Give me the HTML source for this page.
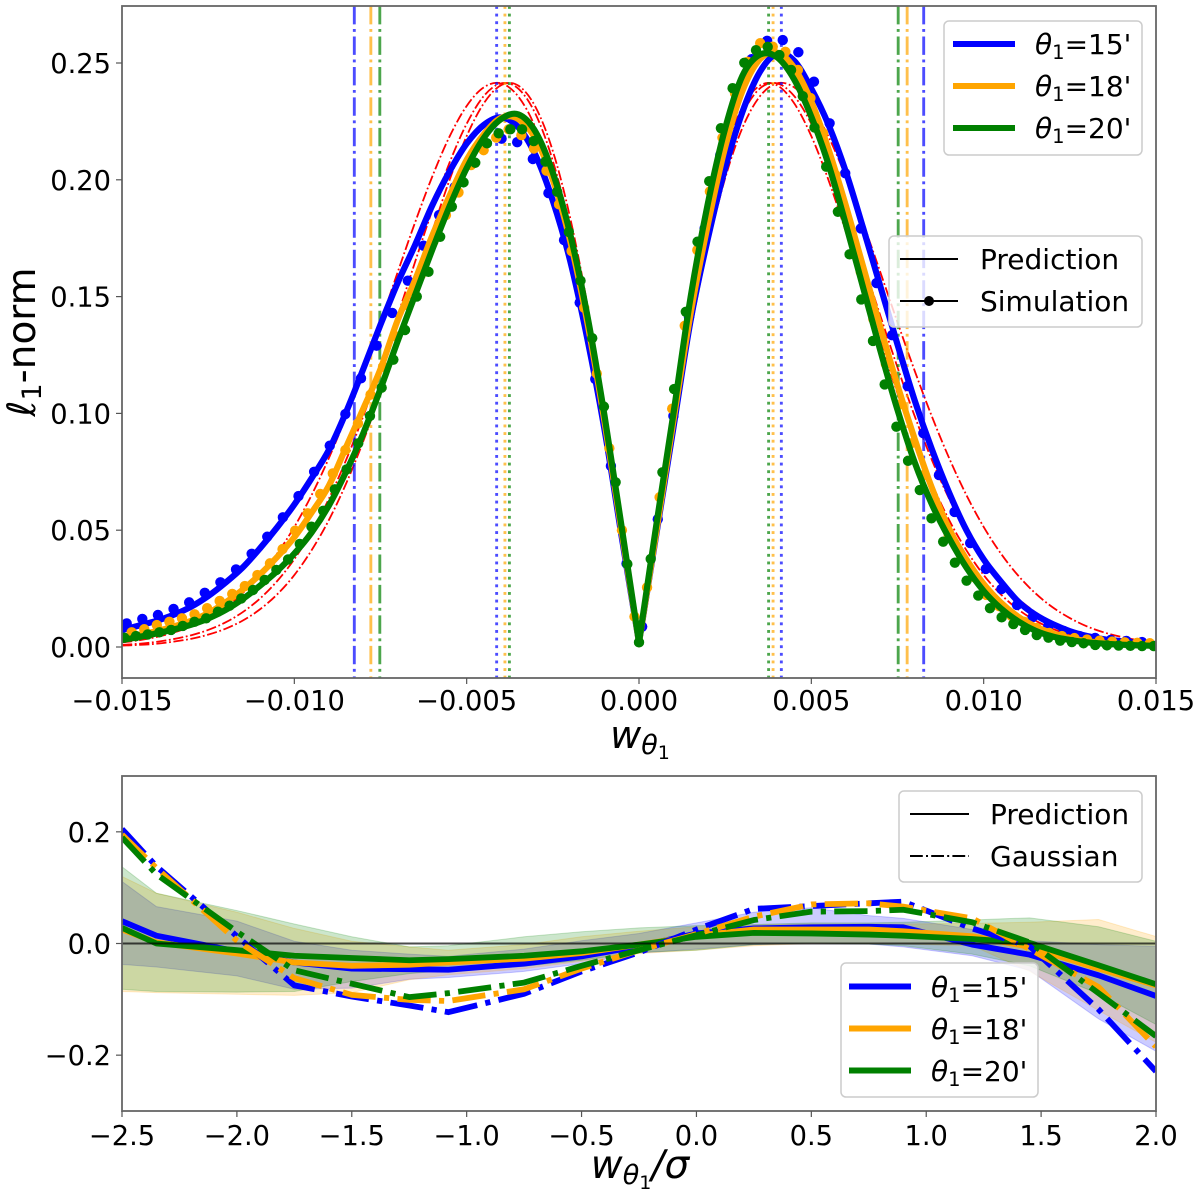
<!DOCTYPE html>
<html lang="en">
<head>
<meta charset="utf-8">
<title>l1-norm prediction versus simulation</title>
<style>
  html, body { margin: 0; padding: 0; background: #fff; }
  svg { display: block; }
  text { font-family: "DejaVu Sans", "Liberation Sans", sans-serif; fill: #000; }
  .it { font-style: italic; }
</style>
</head>
<body>
<svg id="fig" xmlns="http://www.w3.org/2000/svg" width="1200" height="1200" viewBox="0 0 1200 1200">
  <rect x="0" y="0" width="1200" height="1200" fill="#fff"/>
  <defs>
    <clipPath id="clipTop"><rect x="122" y="6" width="1034" height="672"/></clipPath>
    <clipPath id="clipBot"><rect x="122" y="776" width="1034" height="335"/></clipPath>
  </defs>

  <g id="topData" clip-path="url(#clipTop)"></g>
  <g id="botData" clip-path="url(#clipBot)"></g>
  <g id="axesLayer"></g>

  <text x="640" y="748" text-anchor="middle" font-size="38"><tspan class="it">w</tspan><tspan class="it" font-size="27" dy="6">θ</tspan><tspan font-size="19" dy="5">1</tspan></text>
  <text transform="rotate(-90 35 342)" x="35" y="342" text-anchor="middle" font-size="39"><tspan class="it">ℓ</tspan><tspan font-size="27" dy="6">1</tspan><tspan dy="-6">-norm</tspan></text>
  <text x="640" y="1178" text-anchor="middle" font-size="39"><tspan class="it">w</tspan><tspan class="it" font-size="27" dy="6">θ</tspan><tspan font-size="19" dy="5">1</tspan><tspan class="it" dy="-11">/σ</tspan></text>

  <g>
    <rect x="944" y="21" width="198" height="134" rx="5" fill="#fff" fill-opacity="0.8" stroke="#ccc" stroke-width="1.5"/>
    <line x1="953" x2="1015" y1="44" y2="44" stroke="#0000ff" stroke-width="6"/>
    <line x1="953" x2="1015" y1="86" y2="86" stroke="#ffa500" stroke-width="6"/>
    <line x1="953" x2="1015" y1="128" y2="128" stroke="#008000" stroke-width="6"/>
    <text x="1035" y="54" font-size="28"><tspan class="it">θ</tspan><tspan font-size="19.5" dy="5">1</tspan><tspan dy="-5">=15'</tspan></text>
    <text x="1035" y="96" font-size="28"><tspan class="it">θ</tspan><tspan font-size="19.5" dy="5">1</tspan><tspan dy="-5">=18'</tspan></text>
    <text x="1035" y="138" font-size="28"><tspan class="it">θ</tspan><tspan font-size="19.5" dy="5">1</tspan><tspan dy="-5">=20'</tspan></text>
  </g>

  <g>
    <rect x="889" y="236" width="253" height="91" rx="5" fill="#fff" fill-opacity="0.8" stroke="#ccc" stroke-width="1.5"/>
    <line x1="900" x2="958" y1="259" y2="259" stroke="#000" stroke-width="2"/>
    <line x1="900" x2="958" y1="301" y2="301" stroke="#000" stroke-width="2"/>
    <circle cx="929" cy="301" r="5" fill="#000"/>
    <text x="980" y="269" font-size="28">Prediction</text>
    <text x="980" y="311" font-size="28">Simulation</text>
  </g>

  <g>
    <rect x="899" y="791" width="243" height="91" rx="5" fill="#fff" fill-opacity="0.8" stroke="#ccc" stroke-width="1.5"/>
    <line x1="910" x2="969" y1="814" y2="814" stroke="#000" stroke-width="2"/>
    <line x1="910" x2="969" y1="856" y2="856" stroke="#000" stroke-width="2" stroke-dasharray="12.8 3.2 2 3.2"/>
    <text x="990" y="824" font-size="28">Prediction</text>
    <text x="990" y="866" font-size="28">Gaussian</text>
  </g>

  <g>
    <rect x="841" y="963" width="197" height="134" rx="5" fill="#fff" fill-opacity="0.8" stroke="#ccc" stroke-width="1.5"/>
    <line x1="849" x2="911" y1="986.5" y2="986.5" stroke="#0000ff" stroke-width="6"/>
    <line x1="849" x2="911" y1="1028.5" y2="1028.5" stroke="#ffa500" stroke-width="6"/>
    <line x1="849" x2="911" y1="1070.5" y2="1070.5" stroke="#008000" stroke-width="6"/>
    <text x="931" y="997" font-size="28"><tspan class="it">θ</tspan><tspan font-size="19.5" dy="5">1</tspan><tspan dy="-5">=15'</tspan></text>
    <text x="931" y="1039" font-size="28"><tspan class="it">θ</tspan><tspan font-size="19.5" dy="5">1</tspan><tspan dy="-5">=18'</tspan></text>
    <text x="931" y="1081" font-size="28"><tspan class="it">θ</tspan><tspan font-size="19.5" dy="5">1</tspan><tspan dy="-5">=20'</tspan></text>
  </g>
</svg>

<script>
// ---------- Top panel data ----------
const seriesNames = ['theta-15', 'theta-18', 'theta-20'];
const seriesColors = ['#0000ff', '#ffa500', '#008000'];

// Prediction curves, sampled every 0.0005 from -0.015 to 0.015
const predX = [-0.015,-0.0145,-0.014,-0.0135,-0.013,-0.0125,-0.012,-0.0115,-0.011,-0.0105,-0.01,-0.0095,-0.009,-0.0085,-0.008,-0.0075,-0.007,-0.0065,-0.006,-0.0055,-0.005,-0.0045,-0.004,-0.0035,-0.003,-0.0025,-0.002,-0.0015,-0.001,-0.0005,0,0.0005,0.001,0.0015,0.002,0.0025,0.003,0.0035,0.004,0.0045,0.005,0.0055,0.006,0.0065,0.007,0.0075,0.008,0.0085,0.009,0.0095,0.01,0.0105,0.011,0.0115,0.012,0.0125,0.013,0.0135,0.014,0.0145,0.015];
const predBlue = [0.0073,0.0092,0.0112,0.0138,0.0172,0.0218,0.0275,0.034,0.0422,0.0512,0.061,0.0722,0.0843,0.1005,0.119,0.138,0.156,0.172,0.189,0.2035,0.2155,0.2235,0.2267,0.2225,0.2105,0.191,0.1655,0.132,0.093,0.047,0.002,0.048,0.094,0.14,0.175,0.205,0.229,0.246,0.254,0.251,0.239,0.2235,0.2035,0.1795,0.1545,0.1295,0.1055,0.0845,0.066,0.05,0.0375,0.028,0.0195,0.0138,0.0098,0.0068,0.0047,0.0033,0.0025,0.0018,0.0013];
const predOrange = [0.004,0.0052,0.0068,0.0088,0.0112,0.0145,0.019,0.0245,0.031,0.0385,0.047,0.0575,0.069,0.0855,0.102,0.119,0.14,0.157,0.176,0.193,0.2085,0.2195,0.2265,0.226,0.2175,0.2,0.174,0.139,0.0965,0.049,0.002,0.049,0.097,0.143,0.181,0.214,0.238,0.2515,0.2545,0.248,0.2335,0.213,0.189,0.163,0.137,0.112,0.089,0.068,0.0505,0.0375,0.027,0.019,0.013,0.0088,0.0058,0.0038,0.0025,0.0017,0.0012,0.0008,0.0006];
const predGreen = [0.003,0.0043,0.0058,0.0075,0.0095,0.0122,0.0158,0.0205,0.0262,0.0325,0.04,0.049,0.0605,0.075,0.0915,0.1105,0.131,0.1505,0.17,0.1885,0.205,0.218,0.226,0.228,0.2205,0.203,0.177,0.142,0.099,0.051,0.002,0.052,0.1,0.15,0.19,0.222,0.2445,0.2535,0.2525,0.243,0.227,0.2065,0.181,0.154,0.127,0.1015,0.079,0.061,0.0465,0.034,0.024,0.0165,0.011,0.007,0.0045,0.003,0.002,0.0014,0.001,0.0007,0.0005];

// Gaussian reference curves (red), positive half, mirrored about zero; same |w| sampling
const redW = [0,0.0005,0.001,0.0015,0.002,0.0025,0.003,0.0035,0.004,0.0045,0.005,0.0055,0.006,0.0065,0.007,0.0075,0.008,0.0085,0.009,0.0095,0.01,0.0105,0.011,0.0115,0.012,0.0125,0.013,0.0135,0.014,0.0145,0.015];
const redA = [0,0.0479,0.0936,0.1354,0.1715,0.2007,0.2222,0.2356,0.2413,0.2396,0.2316,0.2184,0.2013,0.1816,0.1605,0.139,0.1182,0.0986,0.0808,0.065,0.0514,0.04,0.0306,0.023,0.017,0.0124,0.0088,0.0062,0.0043,0.0029,0.002];
const redB = [0,0.0508,0.099,0.1425,0.1794,0.2081,0.2281,0.239,0.2413,0.2359,0.224,0.2072,0.1869,0.1647,0.1419,0.1197,0.0988,0.08,0.0634,0.0493,0.0376,0.0282,0.0207,0.0149,0.0105,0.0073,0.005,0.0034,0.0022,0.0014,0.0009];
const redC = [0,0.0525,0.1022,0.1467,0.1839,0.2123,0.2311,0.2403,0.2405,0.2328,0.2187,0.1998,0.1778,0.1545,0.131,0.1086,0.0881,0.0699,0.0543,0.0414,0.0308,0.0225,0.0161,0.0113,0.0078,0.0053,0.0035,0.0023,0.0014,0.0009,0.0006];

// Simulation points: each series has its own bin start and spacing
const simStart = [-0.014864, -0.014719, -0.014933];
const simStep = [0.0004532, 0.0003647, 0.0003394];
const simBlue = [0.0101,0.012,0.0137,0.0163,0.0191,0.0232,0.0277,0.0332,0.0399,0.0472,0.0555,0.0646,0.075,0.0862,0.0997,0.115,0.129,0.143,0.1568,0.1718,0.1849,0.1969,0.2076,0.2157,0.2176,0.2161,0.2089,0.1943,0.1742,0.1474,0.1147,0.0775,0.0357,0.0087,0.0547,0.0989,0.1411,0.1792,0.2106,0.234,0.2516,0.2595,0.2598,0.2546,0.242,0.2242,0.2028,0.1792,0.1558,0.1335,0.1117,0.0915,0.0736,0.0578,0.0445,0.0334,0.0248,0.018,0.0128,0.009,0.0068,0.0047,0.0039,0.003,0.0026,0.0021];
const simOrange = [0.0063,0.0076,0.0094,0.0108,0.0123,0.014,0.0166,0.0197,0.0227,0.0261,0.0308,0.0358,0.0419,0.0498,0.0572,0.0655,0.0743,0.0843,0.0957,0.108,0.12,0.133,0.1461,0.1592,0.1735,0.1849,0.1946,0.2063,0.2127,0.2181,0.2216,0.2191,0.2134,0.2039,0.1895,0.1695,0.1452,0.117,0.0851,0.05,0.013,0.0255,0.0641,0.102,0.1375,0.1699,0.195,0.218,0.237,0.2505,0.2585,0.257,0.2548,0.247,0.235,0.22,0.202,0.1815,0.1606,0.1404,0.1211,0.1036,0.0872,0.0736,0.0598,0.0479,0.0386,0.03,0.0223,0.0175,0.0133,0.0108,0.0081,0.006,0.0047,0.0038,0.0032,0.0027,0.0023,0.002,0.0018,0.0016];
const simGreen = [0.004,0.0047,0.0054,0.0063,0.0073,0.009,0.0108,0.0123,0.0151,0.0177,0.0208,0.0244,0.0287,0.033,0.0375,0.0441,0.0515,0.0583,0.0675,0.076,0.0872,0.0989,0.111,0.123,0.1357,0.15,0.1606,0.1756,0.1885,0.1989,0.2073,0.2156,0.2199,0.2216,0.2216,0.2166,0.2078,0.1949,0.1777,0.1568,0.1322,0.1029,0.0705,0.0355,0.002,0.0377,0.0748,0.1104,0.1435,0.1735,0.1994,0.2221,0.2392,0.2501,0.2555,0.2569,0.2534,0.247,0.2358,0.2224,0.2056,0.1863,0.1681,0.1488,0.131,0.1124,0.0943,0.0797,0.0672,0.0551,0.0451,0.0361,0.0284,0.022,0.0166,0.0127,0.0098,0.0073,0.0051,0.004,0.0027,0.0021,0.0016,0.0009,0.0007,0.0006,0.0005,0.0004,0.0004];

// Vertical markers per series: peak positions and tail positions (absolute value of w)
const peakW = [0.00413, 0.00389, 0.00376];
const tailW = [0.00826, 0.00778, 0.00752];

const topXTicks = [-0.015,-0.01,-0.005,0,0.005,0.01,0.015];
const topXLabels = ['−0.015','−0.010','−0.005','0.000','0.005','0.010','0.015'];
const topYTicks = [0,0.05,0.1,0.15,0.2,0.25];
const topYLabels = ['0.00','0.05','0.10','0.15','0.20','0.25'];

// ---------- Bottom panel data ----------
const resX = [-2.5,-2.35,-2,-1.75,-1.5,-1.25,-1.08,-0.75,-0.5,-0.25,0,0.25,0.5,0.75,0.9,1.2,1.45,1.75,2];
const resPredBlue = [0.04,0.014,-0.014,-0.034,-0.045,-0.046,-0.047,-0.036,-0.023,-0.005,0.018,0.027,0.029,0.03,0.029,-0.002,-0.02,-0.057,-0.094];
const resPredOrange = [0.025,0.002,-0.018,-0.034,-0.04,-0.038,-0.034,-0.027,-0.017,-0.002,0.014,0.025,0.025,0.025,0.022,0.013,-0.006,-0.045,-0.075];
const resPredGreen = [0.028,0,-0.012,-0.022,-0.026,-0.03,-0.028,-0.022,-0.014,-0.002,0.012,0.019,0.018,0.016,0.014,0.008,0.001,-0.039,-0.073];
const resGaussBlue = [0.205,0.138,0.013,-0.075,-0.095,-0.111,-0.123,-0.09,-0.05,-0.016,0.025,0.062,0.067,0.072,0.075,0.027,-0.005,-0.118,-0.229];
const resGaussOrange = [0.195,0.135,0.005,-0.062,-0.092,-0.101,-0.103,-0.082,-0.045,-0.012,0.017,0.048,0.07,0.072,0.066,0.045,-0.01,-0.078,-0.185];
const resGaussGreen = [0.19,0.124,0.021,-0.048,-0.072,-0.096,-0.089,-0.07,-0.04,-0.012,0.015,0.042,0.057,0.058,0.0605,0.038,0.002,-0.089,-0.166];
const bandUpBlue = [0.111,0.066,0.04,0.004,-0.012,-0.019,-0.023,-0.01,0.005,0.018,0.037,0.056,0.064,0.05,0.045,0.025,0.005,-0.002,-0.005];
const bandLoBlue = [-0.0375,-0.042,-0.058,-0.082,-0.08,-0.064,-0.061,-0.05,-0.036,-0.017,-0.01,-0.002,0,-0.001,-0.006,-0.022,-0.048,-0.135,-0.193];
const bandUpOrange = [0.12,0.09,0.056,0.027,0.004,-0.006,-0.012,-0.002,0.012,0.022,0.03,0.033,0.035,0.035,0.035,0.036,0.038,0.043,0.0125];
const bandLoOrange = [-0.086,-0.088,-0.091,-0.093,-0.088,-0.065,-0.056,-0.045,-0.032,-0.018,-0.012,-0.004,0,0,-0.001,-0.004,-0.05,-0.12,-0.177];
const bandUpGreen = [0.1375,0.09,0.059,0.035,0.012,-0.006,-0.004,0.012,0.021,0.028,0.032,0.034,0.037,0.037,0.038,0.042,0.046,0.03,0.004];
const bandLoGreen = [-0.082,-0.086,-0.087,-0.086,-0.068,-0.054,-0.048,-0.041,-0.03,-0.016,-0.012,-0.002,0.001,-0.001,-0.004,-0.019,-0.04,-0.09,-0.145];

const botXTicks = [-2.5,-2,-1.5,-1,-0.5,0,0.5,1,1.5,2];
const botXLabels = ['−2.5','−2.0','−1.5','−1.0','−0.5','0.0','0.5','1.0','1.5','2.0'];
const botYTicks = [-0.2,0,0.2];
const botYLabels = ['−0.2','0.0','0.2'];

// ---------- Axis functions ----------
const topDomainX = [-0.015, 0.015];
const topDomainY = [-0.01327, 0.27440];
const botDomainX = [-2.5, 2];
const botDomainY = [-0.3, 0.3];
function scale(v, d, r0, r1) { return r0 + (v - d[0]) / (d[1] - d[0]) * (r1 - r0); }
function topX(v) { return scale(v, topDomainX, 122, 1156); }
function topY(v) { return scale(v, topDomainY, 678, 6); }
function botX(v) { return scale(v, botDomainX, 122, 1156); }
function botY(v) { return scale(v, botDomainY, 1111, 776); }

const NS = 'http://www.w3.org/2000/svg';
function mk(tag, attrs, parent) {
  const el = document.createElementNS(NS, tag);
  for (const k in attrs) el.setAttribute(k, attrs[k]);
  parent.appendChild(el);
  return el;
}
function pathOf(xs, ys, fx, fy) {
  return xs.map(function (x, i) { return (i ? 'L' : 'M') + fx(x).toFixed(2) + ' ' + fy(ys[i]).toFixed(2); }).join('');
}
// Smooth curve through the samples; keeps the sharp cusp at w = 0
function smoothOf(xs, ys, fx, fy) {
  const px = xs.map(fx);
  const py = ys.map(fy);
  const n = px.length;
  function tan(i) {
    if (i === 0 || i === n - 1 || xs[i] === 0) return [0, 0];
    return [(px[i + 1] - px[i - 1]) / 6, (py[i + 1] - py[i - 1]) / 6];
  }
  let d = 'M' + px[0].toFixed(2) + ' ' + py[0].toFixed(2);
  for (let i = 0; i < n - 1; i++) {
    const a = tan(i);
    const b = tan(i + 1);
    d += 'C' + (px[i] + a[0]).toFixed(2) + ' ' + (py[i] + a[1]).toFixed(2) + ' ' +
      (px[i + 1] - b[0]).toFixed(2) + ' ' + (py[i + 1] - b[1]).toFixed(2) + ' ' +
      px[i + 1].toFixed(2) + ' ' + py[i + 1].toFixed(2);
  }
  return d;
}

const topData = document.getElementById('topData');
const botData = document.getElementById('botData');
const axesLayer = document.getElementById('axesLayer');

// ---------- Top panel: red reference curves ----------
[redA, redB, redC].forEach(function (vals) {
  const xs = redW.map(function (w) { return -w; }).reverse().concat(redW.slice(1));
  const ys = vals.slice().reverse().concat(vals.slice(1));
  const el = mk('path', { d: smoothOf(xs, ys, topX, topY), fill: 'none', stroke: '#ff0000', 'stroke-width': 1.8, 'stroke-dasharray': '10.2 2.6 1.8 2.6' }, topData);
  
  
});

// ---------- Top panel: vertical markers ----------
seriesColors.forEach(function (c, i) {
  [-1, 1].forEach(function (sign) {
    const dot = mk('line', { x1: topX(sign * peakW[i]), x2: topX(sign * peakW[i]), y1: 6, y2: 678, stroke: c, 'stroke-opacity': 0.7, 'stroke-width': 2.87, 'stroke-dasharray': '2.87 4.74' }, topData);
    
    
    const dash = mk('line', { x1: topX(sign * tailW[i]), x2: topX(sign * tailW[i]), y1: 6, y2: 678, stroke: c, 'stroke-opacity': 0.7, 'stroke-width': 2.87, 'stroke-dasharray': '18.4 4.6 2.87 4.6' }, topData);
    
    
  });
});

// ---------- Top panel: predictions and simulation points ----------
[predBlue, predOrange, predGreen].forEach(function (vals, i) {
  const g = mk('g', {}, topData);
  
  
  const line = mk('path', { d: smoothOf(predX, vals, topX, topY), fill: 'none', stroke: seriesColors[i], 'stroke-width': 6.2, 'stroke-linejoin': 'round' }, g);
  
  
  [simBlue, simOrange, simGreen][i].forEach(function (v, k) {
    const c = mk('circle', { cx: topX(simStart[i] + k * simStep[i]).toFixed(2), cy: topY(v).toFixed(2), r: 5.2, fill: seriesColors[i] }, g);
    
    
  });
});

// ---------- Bottom panel: bands, lines, zero line ----------
[[bandUpBlue, bandLoBlue], [bandUpOrange, bandLoOrange], [bandUpGreen, bandLoGreen]].forEach(function (b, i) {
  const up = pathOf(resX, b[0], botX, botY);
  const rx = resX.slice().reverse();
  const lo = pathOf(rx, b[1].slice().reverse(), botX, botY).replace('M', 'L');
  const el = mk('path', { d: up + lo + 'Z', fill: seriesColors[i], 'fill-opacity': 0.2, stroke: seriesColors[i], 'stroke-opacity': 0.2, 'stroke-width': 1 }, botData);
  
  
});
[resPredBlue, resPredOrange, resPredGreen].forEach(function (vals, i) {
  const el = mk('path', { d: pathOf(resX, vals, botX, botY), fill: 'none', stroke: seriesColors[i], 'stroke-width': 5.8, 'stroke-linejoin': 'round' }, botData);
  
  
});
[resGaussBlue, resGaussOrange, resGaussGreen].forEach(function (vals, i) {
  const el = mk('path', { d: pathOf(resX, vals, botX, botY), fill: 'none', stroke: seriesColors[i], 'stroke-width': 5.8, 'stroke-linejoin': 'round', 'stroke-dasharray': '33.3 8.3 5.2 8.3' }, botData);
  
  
});
const zeroLine = mk('line', { x1: 122, x2: 1156, y1: botY(0), y2: botY(0), stroke: '#000', 'stroke-opacity': 0.7, 'stroke-width': 2 }, botData);



// ---------- Axes ----------
function drawAxes(name, left, right, top, bottom, xTicks, xLabels, yTicks, yLabels, fx, fy, xBase) {
  const frame = mk('rect', { x: left, y: top, width: right - left, height: bottom - top, fill: 'none', stroke: '#666', 'stroke-width': 1.8 }, axesLayer);
  
  
  xTicks.forEach(function (v, i) {
    const t = mk('line', { x1: fx(v), x2: fx(v), y1: bottom, y2: bottom + 6, stroke: '#555', 'stroke-width': 1.2 }, axesLayer);
    
    
    const l = mk('text', { x: fx(v), y: xBase, 'text-anchor': 'middle', 'font-size': 27.3 }, axesLayer);
    
    
    l.textContent = xLabels[i];
  });
  yTicks.forEach(function (v, i) {
    const t = mk('line', { x1: left - 6, x2: left, y1: fy(v), y2: fy(v), stroke: '#555', 'stroke-width': 1.2 }, axesLayer);
    
    
    const l = mk('text', { x: left - 11, y: fy(v) + 10, 'text-anchor': 'end', 'font-size': 27.3 }, axesLayer);
    
    
    l.textContent = yLabels[i];
  });
}
drawAxes('top-panel', 122, 1156, 6, 678, topXTicks, topXLabels, topYTicks, topYLabels, topX, topY, 710);
drawAxes('bottom-panel', 122, 1156, 776, 1111, botXTicks, botXLabels, botYTicks, botYLabels, botX, botY, 1145);
</script>
</body>
</html>
